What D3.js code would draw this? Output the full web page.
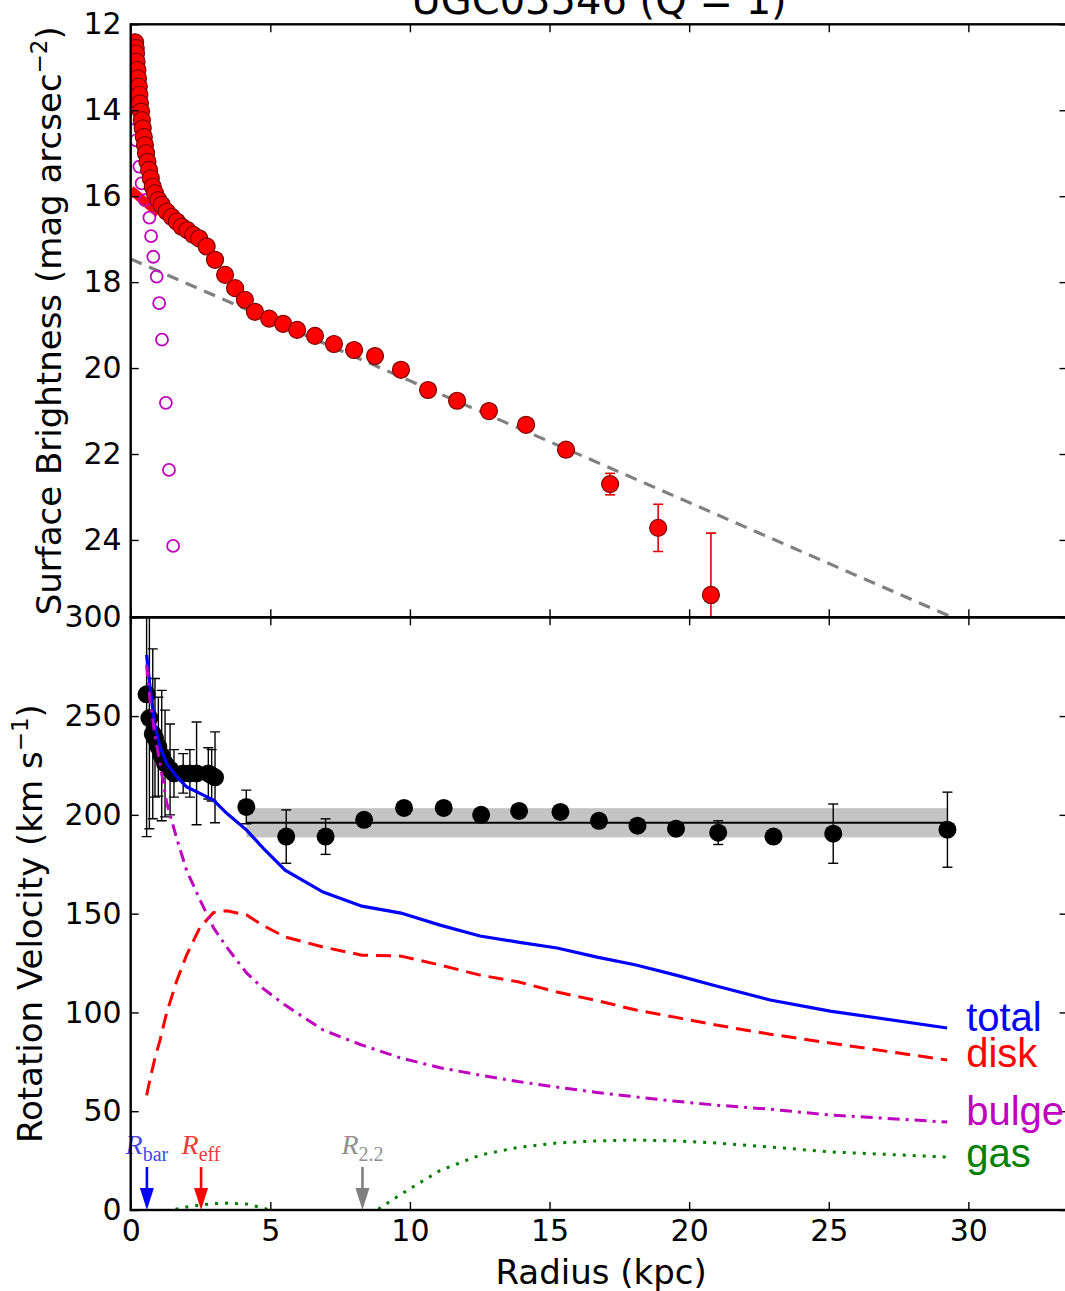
<!DOCTYPE html>
<html>
<head>
<meta charset="utf-8">
<script src="https://cdn.jsdelivr.net/npm/d3@7"></script>
<style>
  body { margin: 0; background: #fff; }
  svg text { font-family: "DejaVu Sans", sans-serif; }
</style>
</head>
<body>
<svg id="chart" width="1065" height="1291"></svg>
<script>
// surface brightness profile (filled red points)
const sbR = [0.16, 0.18, 0.19, 0.21, 0.24, 0.26, 0.29, 0.31, 0.33, 0.37, 0.40, 0.43, 0.47, 0.51, 0.55,
  0.60, 0.66, 0.72, 0.79, 0.87, 0.99, 1.11, 1.29, 1.47, 1.65, 1.83, 2.03, 2.24, 2.45, 2.72, 3.02,
  3.38, 3.74, 4.09, 4.45, 4.96, 5.46, 5.96, 6.60, 7.28, 8.00, 8.75, 9.68, 10.65, 11.69, 12.83,
  14.16, 15.59, 17.17, 18.89, 20.78];
const sbMu = [12.42, 12.55, 12.68, 12.87, 13.06, 13.26, 13.45, 13.64, 13.84, 14.03, 14.23, 14.42, 14.62, 14.81, 15.00,
  15.20, 15.39, 15.58, 15.78, 15.93, 16.09, 16.20, 16.36, 16.48, 16.59, 16.71, 16.79, 16.90, 16.98, 17.17, 17.48,
  17.83, 18.14, 18.41, 18.69, 18.85, 18.97, 19.11, 19.25, 19.44, 19.58, 19.72, 20.04, 20.51, 20.76, 21.00,
  21.32, 21.90, 22.70, 23.72, 25.28];
const sbErr = [0, 0, 0, 0, 0, 0, 0, 0, 0, 0, 0, 0, 0, 0, 0,
  0, 0, 0, 0, 0, 0, 0, 0, 0, 0, 0, 0, 0, 0, 0, 0,
  0, 0, 0, 0, 0, 0, 0, 0, 0, 0, 0, 0, 0, 0, 0,
  0, 0, 0.25, 0.55, 1.44];

// bulge component (open magenta points)
const bulgeSbR = [0.14, 0.20, 0.31, 0.39, 0.51, 0.67, 0.73, 0.81, 0.93, 1.02, 1.12, 1.26, 1.37, 1.52];
const bulgeSbMu = [14.2, 14.7, 15.31, 15.70, 16.09, 16.50, 16.93, 17.41, 17.87, 18.49, 19.34, 20.81, 22.37, 24.14];

// inner disk model and exponential disk fit
const innerDiskR = [0, 1.0];
const innerDiskMu = [15.85, 16.4];
const diskFitR = [0, 33.55];
const diskFitMu = [17.46, 26.97];

// rotation curve
const rcR = [0.57, 0.67, 0.79, 0.87, 0.99, 1.11, 1.23, 1.41, 1.55, 1.88, 2.12, 2.36, 2.78, 2.90, 3.02,
  4.14, 5.57, 6.98, 8.36, 9.79, 11.21, 12.55, 13.91, 15.39, 16.77, 18.15, 19.53, 21.04, 23.02, 25.16, 29.25];
const rcV = [261, 249, 241, 239, 234.5, 230, 226, 223, 221, 221, 221, 221, 221, 220, 219,
  204, 189, 189, 197.5, 203.5, 203.5, 200, 202, 201.5, 197, 194.5, 193, 191, 189, 190.5, 192.5];
const rcErr = [72, 56, 43, 30, 25, 33, 27, 23, 12, 10, 12, 26, 13, 13, 23,
  8.5, 13.5, 9, 2, 2, 2, 2, 2, 2, 2, 2, 2, 6, 2, 15, 19];

// flat velocity and its scatter
const vFlat = 196;
const vFlatErr = 7.4;
const vFlatRange = [4.14, 29.25];

// mass model components
const modelR = [0.57, 0.69, 0.87, 1.05, 1.29, 1.65, 2.0, 2.48, 2.96, 3.44, 4.15, 4.75, 5.53, 6.89, 8.28,
  9.68, 11.08, 12.51, 13.87, 15.27, 16.7, 18.1, 19.53, 20.97, 22.9, 25.05, 29.24];
const vTotal = [281, 265, 244.6, 234.5, 226, 219.3, 214.2, 210.9, 207.5, 200.8, 192.3, 183, 172, 160.9, 153.8,
  150.3, 144.2, 138.7, 135.6, 132.6, 128, 124, 118.9, 113.4, 106.3, 100.7, 92.1];
const vDisk = [58, 66, 77, 86, 100, 116, 129, 143, 150.5, 151.5, 149.3, 144, 138.2, 133.1, 129,
  128.5, 124, 118.9, 115.5, 110.3, 106, 101.2, 97.5, 93.6, 89, 84.5, 75.9];
const vBulge = [276, 258, 240, 226, 206, 188, 172, 157, 143, 133, 120, 112, 103.7, 91.1, 83.5,
  76.9, 72, 68.3, 65, 62.2, 59.5, 57.2, 55, 53.1, 51, 48.1, 44.5];
const vGas = [-3, -2, -1, -0.5, -0.2, 0.5, 1.5, 2.5, 3.2, 3.5, 3, 1, -3, -8, -5,
  8, 20, 27.8, 31.7, 33.9, 35, 35.4, 35, 33.9, 31.9, 29.4, 26.8];

const componentNames = ["total", "disk", "bulge", "gas"];
const componentColors = ["#0000ff", "#ff0000", "#bf00bf", "#008000"];

// characteristic radii
const radiusNames = ["bar", "eff", "2.2"];
const radiusValues = [0.58, 2.52, 8.3];
const radiusArrowColors = ["#0000ff", "#ff0000", "#808080"];
const radiusTextColors = ["#4646e6", "#e63c3c", "#909090"];

const muTicks = [12, 14, 16, 18, 20, 22, 24];
const vTicks = [0, 50, 100, 150, 200, 250, 300];
const rTicks = [0, 5, 10, 15, 20, 25, 30];

const left = 130.7, right = 1067.5;
const topY = 24.3, midY = 617.3, botY = 1210;

const x = d3.scaleLinear().domain([0, 33.55]).range([left, right]);
const yMu = d3.scaleLinear().domain([12, 25.8]).range([topY, midY]);
const yV = d3.scaleLinear().domain([0, 300]).range([botY, midY]);

const svg = d3.select("#chart");

const defs = svg.append("defs");
defs.append("clipPath").attr("id", "clip-top")
  .append("rect").attr("x", left).attr("y", topY).attr("width", right - left).attr("height", midY - topY);
defs.append("clipPath").attr("id", "clip-bot")
  .append("rect").attr("x", left).attr("y", midY).attr("width", right - left).attr("height", botY - midY);

function styleAxis(g, labels) {
  g.select(".domain").remove();
  g.attr("font-family", "DejaVu Sans, sans-serif").attr("font-size", 30);
  g.selectAll(".tick line").attr("stroke", "#000").attr("stroke-width", 1.4);
  g.selectAll(".tick text").attr("fill", "#000");
  if (!labels) g.selectAll(".tick text").remove();
}

function drawAxes(yScale, yTicks, y0, y1, xLabels) {
  svg.append("g").attr("transform", `translate(${left},0)`)
    .call(d3.axisLeft(yScale).tickValues(yTicks).tickSize(-8).tickPadding(9).tickFormat(d3.format("d")))
    .call(g => styleAxis(g, true));
  svg.append("g").attr("transform", `translate(${right},0)`)
    .call(d3.axisRight(yScale).tickValues(yTicks).tickSize(-8))
    .call(g => styleAxis(g, false));
  svg.append("g").attr("transform", `translate(0,${y0})`)
    .call(d3.axisTop(x).tickValues(rTicks).tickSize(-8))
    .call(g => styleAxis(g, false));
  svg.append("g").attr("transform", `translate(0,${y1})`)
    .call(d3.axisBottom(x).tickValues(rTicks).tickSize(-8).tickPadding(10).tickFormat(d3.format("d")))
    .call(g => styleAxis(g, xLabels));
  svg.append("rect")
    .attr("x", left).attr("y", y0).attr("width", right - left).attr("height", y1 - y0)
    .attr("fill", "none").attr("stroke", "#000").attr("stroke-width", 2.4);
}

// ---- top panel: surface brightness ----
const topG = svg.append("g").attr("clip-path", "url(#clip-top)");

const muLine = d3.line().x(d => x(d[0])).y(d => yMu(d[1]));

topG.append("path")
  .attr("d", muLine(d3.zip(diskFitR, diskFitMu)))
  .attr("fill", "none").attr("stroke", "#808080").attr("stroke-width", 3.2)
  .attr("stroke-dasharray", "12,8");

topG.append("path")
  .attr("d", muLine(d3.zip(innerDiskR, innerDiskMu)))
  .attr("fill", "none").attr("stroke", "#ff0000").attr("stroke-width", 9);

topG.selectAll(".bulge-pt")
  .data(d3.zip(bulgeSbR, bulgeSbMu))
  .enter().append("circle")
  .attr("class", "bulge-pt")
  .attr("cx", d => x(d[0])).attr("cy", d => yMu(d[1])).attr("r", 6)
  .attr("fill", "none").attr("stroke", "#bf00bf").attr("stroke-width", 1.8);

const sbData = sbR.map((r, i) => ({ r: r, mu: sbMu[i], err: sbErr[i] }));

const sbErrG = topG.selectAll(".sb-err")
  .data(sbData.filter(d => d.err > 0))
  .enter().append("g").attr("class", "sb-err")
  .attr("stroke", "#e00000").attr("stroke-width", 1.6);
sbErrG.append("line")
  .attr("x1", d => x(d.r)).attr("x2", d => x(d.r))
  .attr("y1", d => yMu(d.mu - d.err)).attr("y2", d => yMu(d.mu + d.err));
sbErrG.append("line")
  .attr("x1", d => x(d.r) - 5).attr("x2", d => x(d.r) + 5)
  .attr("y1", d => yMu(d.mu - d.err)).attr("y2", d => yMu(d.mu - d.err));
sbErrG.append("line")
  .attr("x1", d => x(d.r) - 5).attr("x2", d => x(d.r) + 5)
  .attr("y1", d => yMu(d.mu + d.err)).attr("y2", d => yMu(d.mu + d.err));

topG.selectAll(".sb-pt")
  .data(sbData)
  .enter().append("circle")
  .attr("class", "sb-pt")
  .attr("cx", d => x(d.r)).attr("cy", d => yMu(d.mu)).attr("r", 8.5)
  .attr("fill", "#ff0000").attr("stroke", "#7a0000").attr("stroke-width", 1.2);

drawAxes(yMu, muTicks, topY, midY, false);

// ---- bottom panel: rotation curve ----
const botG = svg.append("g").attr("clip-path", "url(#clip-bot)");

botG.append("rect")
  .attr("x", x(vFlatRange[0])).attr("width", x(vFlatRange[1]) - x(vFlatRange[0]))
  .attr("y", yV(vFlat + vFlatErr)).attr("height", yV(vFlat - vFlatErr) - yV(vFlat + vFlatErr))
  .attr("fill", "#c4c4c4");
botG.append("line")
  .attr("x1", x(vFlatRange[0])).attr("x2", x(vFlatRange[1]))
  .attr("y1", yV(vFlat)).attr("y2", yV(vFlat))
  .attr("stroke", "#000").attr("stroke-width", 2.2);

const rcData = rcR.map((r, i) => ({ r: r, v: rcV[i], err: rcErr[i] }));

const rcErrG = botG.selectAll(".rc-err")
  .data(rcData)
  .enter().append("g").attr("class", "rc-err")
  .attr("stroke", "#000").attr("stroke-width", 1.4);
rcErrG.append("line")
  .attr("x1", d => x(d.r)).attr("x2", d => x(d.r))
  .attr("y1", d => yV(d.v - d.err)).attr("y2", d => yV(d.v + d.err));
rcErrG.append("line")
  .attr("x1", d => x(d.r) - 5).attr("x2", d => x(d.r) + 5)
  .attr("y1", d => yV(d.v - d.err)).attr("y2", d => yV(d.v - d.err));
rcErrG.append("line")
  .attr("x1", d => x(d.r) - 5).attr("x2", d => x(d.r) + 5)
  .attr("y1", d => yV(d.v + d.err)).attr("y2", d => yV(d.v + d.err));

botG.selectAll(".rc-pt")
  .data(rcData)
  .enter().append("circle")
  .attr("class", "rc-pt")
  .attr("cx", d => x(d.r)).attr("cy", d => yV(d.v)).attr("r", 9)
  .attr("fill", "#000");

const vLine = d3.line().x((d, i) => x(modelR[i])).y(d => yV(d));
const componentValues = [vTotal, vDisk, vBulge, vGas];
const componentDash = [null, "15,8", "12,6,3,6", "3,7"];

componentValues.forEach((vals, k) => {
  botG.append("path")
    .attr("d", vLine(vals))
    .attr("fill", "none")
    .attr("stroke", componentColors[k])
    .attr("stroke-width", k === 0 ? 3.2 : 3)
    .attr("stroke-dasharray", componentDash[k]);
});

// characteristic radii arrows
radiusValues.forEach((rv, i) => {
  const ax = x(rv);
  const g = svg.append("g");
  g.append("line")
    .attr("x1", ax).attr("x2", ax)
    .attr("y1", yV(0) - 43).attr("y2", yV(0) - 20)
    .attr("stroke", radiusArrowColors[i]).attr("stroke-width", 2.6);
  g.append("path")
    .attr("d", `M${ax - 7},${yV(0) - 22}L${ax + 7},${yV(0) - 22}L${ax},${yV(0)}Z`)
    .attr("fill", radiusArrowColors[i]);
  const t = g.append("text")
    .attr("x", ax).attr("y", yV(0) - 56)
    .attr("text-anchor", "middle")
    .attr("fill", radiusTextColors[i])
    .style("font-family", "'Liberation Serif', serif");
  t.append("tspan").attr("font-style", "italic").attr("font-size", 28).text("R");
  t.append("tspan").attr("font-size", 20).attr("dy", 7).text(radiusNames[i]);
});

drawAxes(yV, vTicks, midY, botY, true);

// component labels at the end of each curve
const labelDy = [3, 7, 3, 10];
componentNames.forEach((name, k) => {
  const vals = componentValues[k];
  svg.append("text")
    .attr("x", x(modelR[modelR.length - 1]) + 19)
    .attr("y", yV(vals[vals.length - 1]) + labelDy[k])
    .attr("fill", componentColors[k])
    .style("font-family", "'Liberation Sans', Arial, sans-serif")
    .attr("font-size", 40)
    .text(name);
});

// axis titles
svg.append("text")
  .attr("transform", `translate(61,${(topY + midY) / 2}) rotate(-90)`)
  .attr("text-anchor", "middle")
  .attr("font-size", 34)
  .html('Surface Brightness (mag arcsec<tspan font-size="23" dy="-14">\u22122</tspan><tspan dy="14">)</tspan>');

svg.append("text")
  .attr("transform", `translate(42,${(midY + botY) / 2 + 10}) rotate(-90)`)
  .attr("text-anchor", "middle")
  .attr("font-size", 34)
  .html('Rotation Velocity (km s<tspan font-size="23" dy="-14">\u22121</tspan><tspan dy="14">)</tspan>');

svg.append("text")
  .attr("x", (left + right) / 2 + 2).attr("y", 1284)
  .attr("text-anchor", "middle")
  .attr("font-size", 34)
  .text("Radius (kpc)");

svg.append("text")
  .attr("x", (left + right) / 2).attr("y", 14)
  .attr("text-anchor", "middle")
  .attr("font-size", 40)
  .text("UGC03546 (Q = 1)");
</script>
</body>
</html>
